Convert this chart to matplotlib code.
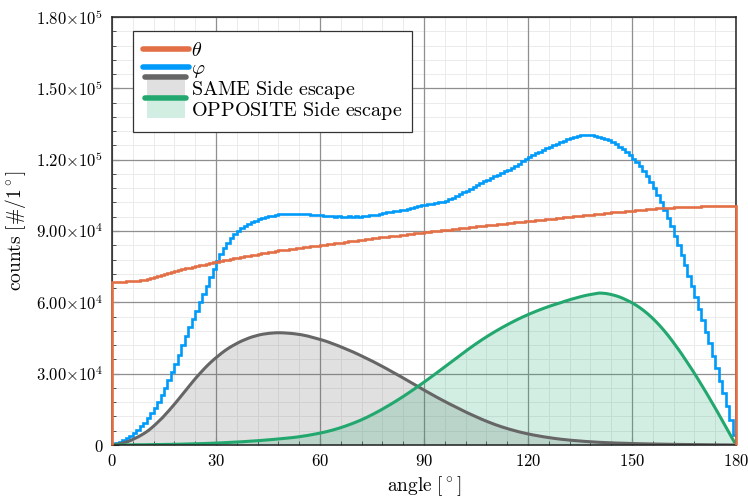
import numpy as np
import matplotlib
matplotlib.use("Agg")
import matplotlib.pyplot as plt
from matplotlib.legend_handler import HandlerBase
from matplotlib.lines import Line2D
from matplotlib.patches import Patch, Rectangle
from matplotlib.ticker import MultipleLocator, FuncFormatter

plt.rcParams['mathtext.fontset'] = 'cm'
plt.rcParams['font.family'] = 'DejaVu Serif'

# 1 degree bins, counts in thousands per bin
edges = np.arange(0, 181, 1)

theta_k = [
    68.5, 68.6, 68.5, 68.7, 68.8, 68.8, 69.0, 69.1, 69.4, 69.6,
    70.0, 70.4, 70.8, 71.2, 71.5, 72.0, 72.4, 72.8, 73.2, 73.6,
    73.9, 74.3, 74.6, 75.0, 75.3, 75.6, 75.9, 76.3, 76.5, 76.8,
    77.1, 77.4, 77.8, 78.0, 78.3, 78.6, 78.8, 79.1, 79.4, 79.6,
    79.8, 80.1, 80.4, 80.6, 80.8, 81.1, 81.3, 81.6, 81.8, 82.0,
    82.2, 82.4, 82.5, 82.8, 83.0, 83.1, 83.3, 83.5, 83.6, 83.8,
    84.0, 84.2, 84.4, 84.5, 84.8, 85.0, 85.1, 85.3, 85.6, 85.8,
    86.0, 86.1, 86.4, 86.5, 86.7, 86.9, 87.0, 87.3, 87.4, 87.6,
    87.8, 88.0, 88.1, 88.3, 88.5, 88.6, 88.8, 89.0, 89.1, 89.3,
    89.5, 89.7, 89.8, 90.0, 90.1, 90.3, 90.5, 90.6, 90.8, 91.0,
    91.1, 91.3, 91.4, 91.6, 91.8, 91.9, 92.0, 92.2, 92.4, 92.5,
    92.7, 92.8, 93.0, 93.1, 93.3, 93.4, 93.6, 93.7, 93.9, 94.0,
    94.2, 94.3, 94.5, 94.6, 94.8, 94.9, 95.1, 95.2, 95.4, 95.5,
    95.7, 95.8, 96.0, 96.1, 96.3, 96.4, 96.6, 96.7, 96.9, 97.0,
    97.2, 97.3, 97.5, 97.6, 97.8, 97.9, 98.0, 98.2, 98.3, 98.5,
    98.6, 98.7, 98.9, 99.0, 99.1, 99.2, 99.4, 99.5, 99.6, 99.7,
    99.8, 99.8, 99.9, 100.0, 100.1, 100.1, 100.2, 100.2, 100.3, 100.3,
    100.4, 100.4, 100.4, 100.5, 100.5, 100.5, 100.6, 100.5, 100.6, 100.5,
]

phi_k = [
    0.3, 0.7, 1.3, 2.0, 2.9, 3.9, 5.0, 6.3, 7.8, 9.4,
    11.2, 13.3, 15.6, 18.2, 21.0, 24.0, 27.2, 30.6, 34.2, 38.0,
    42.0, 45.8, 49.5, 53.0, 56.5, 60.0, 63.5, 67.0, 70.5, 74.0,
    77.3, 80.2, 82.8, 85.0, 87.0, 88.6, 90.0, 91.2, 92.2, 93.0,
    93.7, 94.3, 94.9, 95.4, 95.8, 96.2, 96.5, 96.8, 97.0, 97.1,
    97.2, 97.3, 97.2, 97.3, 97.1, 97.0, 97.1, 96.8, 96.9, 96.6,
    96.7, 96.4, 96.5, 96.2, 95.9, 96.3, 96.0, 95.7, 96.1, 95.9,
    96.2, 96.0, 96.4, 96.3, 96.7, 96.6, 96.9, 97.2, 97.4, 97.8,
    97.9, 98.3, 98.6, 98.8, 99.0, 99.4, 99.7, 100.1, 100.4, 100.8,
    101.0, 101.2, 101.5, 101.8, 102.1, 102.3, 102.8, 103.3, 103.9, 104.6,
    105.4, 106.2, 107.0, 107.8, 108.6, 109.4, 110.1, 110.9, 111.6, 112.3,
    113.0, 113.7, 114.4, 115.1, 115.8, 116.6, 117.4, 118.3, 119.3, 120.2,
    121.1, 121.9, 122.6, 123.3, 124.0, 124.7, 125.4, 126.0, 126.6, 127.3,
    127.9, 128.5, 129.1, 129.6, 130.0, 130.3, 130.5, 130.3, 130.2, 130.0,
    129.6, 129.3, 128.8, 128.2, 127.4, 126.5, 125.5, 124.4, 123.1, 121.8,
    120.4, 118.9, 117.2, 115.2, 113.0, 110.6, 108.0, 105.2, 102.2, 99.0,
    95.6, 92.0, 88.1, 84.1, 79.9, 75.6, 71.2, 66.7, 62.1, 57.4,
    52.6, 47.7, 42.7, 37.6, 32.4, 27.1, 21.7, 16.2, 10.6, 4.0,
]

same_k = [
    0.1, 0.3, 0.6, 1.0, 1.4, 2.0, 2.7, 3.4, 4.2, 5.1,
    6.1, 7.3, 8.6, 10.0, 11.4, 13.0, 14.6, 16.3, 18.0, 19.8,
    21.6, 23.4, 25.2, 27.0, 28.7, 30.3, 31.9, 33.4, 34.8, 36.1,
    37.3, 38.5, 39.6, 40.6, 41.5, 42.3, 43.1, 43.8, 44.4, 45.0,
    45.5, 45.9, 46.3, 46.6, 46.8, 47.0, 47.1, 47.2, 47.2, 47.15,
    47.05, 46.95, 46.8, 46.6, 46.4, 46.1, 45.8, 45.4, 45.0, 44.6,
    44.2, 43.75, 43.25, 42.7, 42.15, 41.6, 41.0, 40.4, 39.8, 39.15,
    38.5, 37.8, 37.1, 36.4, 35.7, 34.95, 34.2, 33.45, 32.65, 31.85,
    31.05, 30.25, 29.43, 28.6, 27.75, 26.9, 26.05, 25.2, 24.35, 23.5,
    22.7, 21.87, 21.05, 20.25, 19.45, 18.7, 17.93, 17.18, 16.45, 15.7,
    14.95, 14.25, 13.55, 12.88, 12.2, 11.55, 10.92, 10.3, 9.72, 9.15,
    8.6, 8.08, 7.6, 7.13, 6.7, 6.3, 5.9, 5.5, 5.15, 4.82,
    4.5, 4.22, 3.95, 3.69, 3.45, 3.22, 3.0, 2.8, 2.6, 2.43,
    2.27, 2.12, 1.98, 1.85, 1.72, 1.6, 1.5, 1.4, 1.3, 1.21,
    1.13, 1.06, 0.99, 0.93, 0.87, 0.82, 0.77, 0.72, 0.68, 0.64,
    0.6, 0.56, 0.52, 0.49, 0.46, 0.43, 0.4, 0.37, 0.35, 0.33,
    0.3, 0.28, 0.26, 0.24, 0.22, 0.2, 0.18, 0.17, 0.15, 0.14,
    0.12, 0.11, 0.1, 0.09, 0.08, 0.06, 0.05, 0.04, 0.03, 0.02,
]

opposite_k = [
    0.0, 0.0, 0.0, 0.0, 0.05, 0.05, 0.1, 0.1, 0.1, 0.1,
    0.15, 0.15, 0.2, 0.2, 0.2, 0.25, 0.25, 0.3, 0.3, 0.35,
    0.4, 0.43, 0.47, 0.5, 0.54, 0.58, 0.62, 0.67, 0.72, 0.78,
    0.85, 0.91, 0.98, 1.05, 1.12, 1.2, 1.28, 1.37, 1.46, 1.55,
    1.65, 1.75, 1.86, 1.97, 2.09, 2.21, 2.34, 2.47, 2.61, 2.75,
    2.88, 3.03, 3.19, 3.37, 3.58, 3.8, 4.04, 4.3, 4.57, 4.86,
    5.15, 5.48, 5.84, 6.22, 6.63, 7.07, 7.54, 8.04, 8.57, 9.12,
    9.7, 10.3, 10.95, 11.63, 12.35, 13.1, 13.87, 14.67, 15.5, 16.35,
    17.2, 18.09, 19.0, 19.93, 20.88, 21.85, 22.84, 23.84, 24.86, 25.89,
    26.95, 28.0, 29.07, 30.15, 31.23, 32.32, 33.41, 34.5, 35.6, 36.7,
    37.8, 38.9, 39.98, 41.03, 42.06, 43.07, 44.05, 45.0, 45.93, 46.83,
    47.7, 48.55, 49.38, 50.18, 50.96, 51.72, 52.46, 53.17, 53.86, 54.52,
    55.15, 55.76, 56.35, 56.92, 57.47, 58.0, 58.5, 58.98, 59.44, 59.88,
    60.4, 60.85, 61.3, 61.7, 62.1, 62.5, 62.85, 63.15, 63.4, 63.65,
    63.9, 63.85, 63.7, 63.45, 63.1, 62.7, 62.2, 61.6, 60.9, 60.2,
    59.4, 58.5, 57.5, 56.4, 55.2, 53.9, 52.5, 51.0, 49.4, 47.7,
    45.9, 44.0, 42.0, 40.0, 37.9, 35.7, 33.5, 31.3, 29.0, 26.6,
    24.2, 21.8, 19.3, 16.8, 14.3, 11.7, 9.1, 6.5, 3.9, 1.3,
]

labels = [r'$\theta$', r'$\varphi$',
          r'$\mathrm{SAME\ Side\ escape}$', r'$\mathrm{OPPOSITE\ Side\ escape}$']
c_theta = '#e36f47'
c_phi = '#009afa'
c_same = '#666666'
c_opp = '#22a86e'


class LineOverPatch(HandlerBase):
    # line sits above the filled box, like the original legend
    def create_artists(self, legend, orig_handle, xdescent, ydescent,
                       width, height, fontsize, trans):
        x0, y0 = -xdescent, -ydescent
        rect = Rectangle((x0 + 3, y0 - 0.1 * height), width - 6, height * 1.15,
                         facecolor=orig_handle.get_facecolor(), edgecolor='none',
                         transform=trans)
        ln = Line2D([x0 + 2, x0 + width - 2], [y0 + height * 1.3] * 2,
                    color=orig_handle.get_edgecolor(), lw=4,
                    solid_capstyle='round', transform=trans)
        return [rect, ln]


fig = plt.figure(figsize=(7.48, 4.97), dpi=100)
ax = fig.add_axes([112 / 748, 52 / 497, 624 / 748, 428 / 497])

centers = edges[:-1] + 0.5
same = np.array(same_k) * 1e3
opp = np.array(opposite_k) * 1e3

ax.fill_between(centers, same, 0, color=c_same, alpha=0.2, lw=0, zorder=2)
ax.fill_between(centers, opp, 0, color=c_opp, alpha=0.2, lw=0, zorder=2)
ax.stairs(np.array(theta_k) * 1e3, edges, baseline=0, color=c_theta, lw=1.9,
          zorder=5.5, clip_on=False)
ax.stairs(np.array(phi_k) * 1e3, edges, baseline=0, color=c_phi, lw=1.9, zorder=4)
ax.plot(centers, same, color=c_same, lw=2.2, zorder=4)
ax.plot(centers, opp, color=c_opp, lw=2.2, zorder=4)

ax.set_xlim(0, 180)
ax.set_ylim(0, 1.8e5)
ax.xaxis.set_major_locator(MultipleLocator(30))
ax.xaxis.set_minor_locator(MultipleLocator(6))
ax.yaxis.set_major_locator(MultipleLocator(3e4))
ax.yaxis.set_minor_locator(MultipleLocator(6e3))


def ylab(v, pos):
    if v <= 0:
        return r'$0$'
    e = int(np.floor(np.log10(v)))
    return r'$%.2f{\times}10^{%d}$' % (v / 10 ** e, e)


ax.yaxis.set_major_formatter(FuncFormatter(ylab))
ax.xaxis.set_major_formatter(FuncFormatter(lambda v, p: r'$%d$' % round(v)))

# minor grid from the axes, major grid drawn on top of it
ax.grid(which='minor', color='#ebebeb', lw=0.7)
ax.set_axisbelow(True)
for v in ax.get_xticks():
    ax.axvline(v, color='#8f8f8f', lw=0.9, zorder=1)
for v in ax.get_yticks():
    ax.axhline(v, color='#8f8f8f', lw=0.9, zorder=1)

ax.tick_params(which='both', direction='in', top=False, right=False,
               labelsize=12, color='#333333')
ax.tick_params(which='major', length=5, width=0.8, pad=6)
ax.tick_params(which='minor', length=3, width=0.6)
for s in ax.spines.values():
    s.set_linewidth(1.1)
    s.set_color('#222222')
    s.set_zorder(5)

ax.set_xlabel(r'$\mathrm{angle}\ [^\circ]$', fontsize=14, labelpad=3)
ax.set_ylabel(r'$\mathrm{counts}\ [\#/1^\circ]$', fontsize=14, labelpad=6)

handles = [
    Line2D([], [], color=c_theta, lw=4, solid_capstyle='round'),
    Line2D([], [], color=c_phi, lw=4, solid_capstyle='round'),
    Patch(facecolor=(0.4, 0.4, 0.4, 0.2), edgecolor=c_same),
    Patch(facecolor=(0.133, 0.659, 0.431, 0.2), edgecolor=c_opp),
]
leg = ax.legend(handles, labels, loc='upper left', bbox_to_anchor=(0.033, 0.967),
                borderaxespad=0, fontsize=14.5, handlelength=2.3, handletextpad=0.1,
                labelspacing=-0.05, borderpad=0.5, fancybox=False, framealpha=1,
                edgecolor='#333333',
                handler_map={Patch: LineOverPatch()})
leg.get_frame().set_linewidth(0.9)
leg.set_zorder(6)

fig.savefig('out.png', dpi=100)
